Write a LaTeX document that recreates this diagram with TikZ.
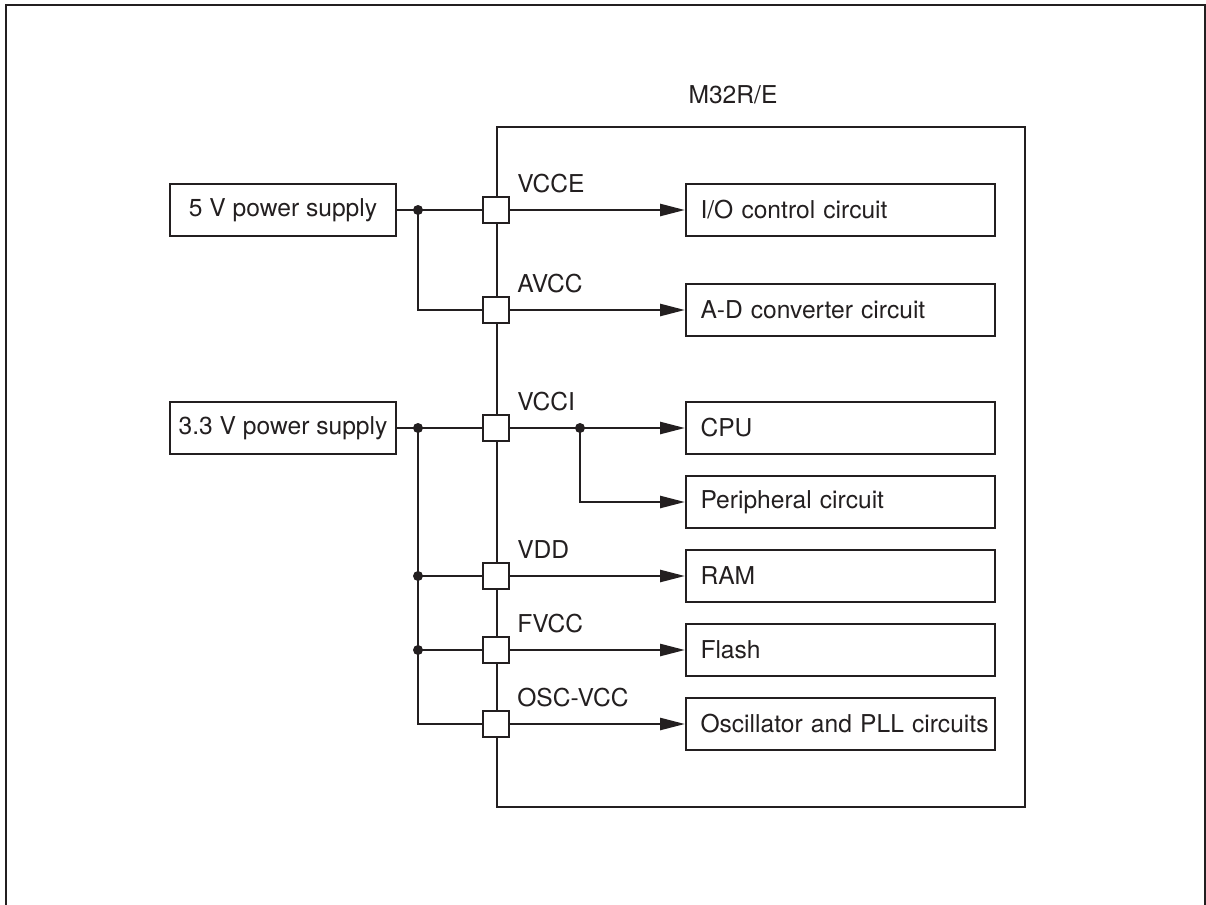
\documentclass[tikz,border=0pt]{standalone}
\usepackage{fontspec}
\setsansfont{TeX Gyre Heros}
\usetikzlibrary{arrows.meta,positioning}
\definecolor{ink}{RGB}{35,31,32}
\begin{document}
\begin{tikzpicture}[x=0.5pt,y=-0.5pt,color=ink,line width=1.3pt,
  every node/.style={font=\sffamily\fontsize{12.3pt}{14pt}\selectfont},
  supply/.style={draw,line width=1pt,anchor=west,minimum width=113pt,minimum height=26pt,inner sep=0pt},
  block/.style={draw,line width=1pt,anchor=west,align=left,text width=140pt,inner xsep=7.25pt,inner ysep=0pt,minimum height=26pt},
  pin/.style={draw,fill=white,line width=1pt,minimum size=13pt,inner sep=0pt},
  pinlbl/.style={inner sep=0pt},
  >={Triangle[length=12.5pt,width=6pt]}]
\useasboundingbox (0,0) rectangle (1206,905);
\draw[line width=1pt] (6,905) -- (6,5) -- (1205,5) -- (1205,905);
\node[draw,line width=0.9pt,anchor=north west,minimum width=264pt,minimum height=340pt,inner sep=0pt] (chip) at (496,126) {};
\node[anchor=base] (chipname) at (733,103) {M32R/E};
\node[supply] (ps5) at (169,210) {5 V power supply};
\node[supply] (ps33) at (169,428) {3.3 V power supply};
\node[pin] (vcce) at (496,210) {};
\node[pin] (avcc) at (496,310) {};
\node[pin] (vcci) at (496,428) {};
\node[pin] (vdd) at (496,576) {};
\node[pin] (fvcc) at (496,650) {};
\node[pin] (oscvcc) at (496,724) {};
\node[pinlbl,above right=1pt and 3pt of vcce.north east] (vccelbl) {VCCE};
\node[pinlbl,above right=1pt and 3pt of avcc.north east] (avcclbl) {AVCC};
\node[pinlbl,above right=1pt and 3pt of vcci.north east] (vccilbl) {VCCI};
\node[pinlbl,above right=1pt and 3pt of vdd.north east] (vddlbl) {VDD};
\node[pinlbl,above right=1pt and 3pt of fvcc.north east] (fvcclbl) {FVCC};
\node[pinlbl,above right=1pt and 3pt of oscvcc.north east] (oscvcclbl) {OSC-VCC};
\node[block] (io) at (685,210) {I/O control circuit};
\node[block] (adc) at (685,310) {A-D converter circuit};
\node[block] (cpu) at (685,428) {CPU};
\node[block] (peri) at (685,502) {Peripheral circuit};
\node[block] (ram) at (685,576) {RAM};
\node[block] (flash) at (685,650) {Flash};
\node[block] (osc) at (685,724) {\mbox{Oscillator and PLL circuits}};
\coordinate (j5) at (418,210);
\coordinate (j33) at (418,428);
\coordinate (jvdd) at (418,576);
\coordinate (jfvcc) at (418,650);
\coordinate (jcpu) at (580,428);
\draw (ps5.east) -- (j5) -- (vcce.west);\draw (j5) |- (avcc.west);
\draw (ps33.east) -- (j33) -- (vcci.west);\draw (j33) |- (oscvcc.west);
\draw (jvdd) -- (vdd.west);\draw (jfvcc) -- (fvcc.west);
\draw[->] (vcce.east) -- (io.west);\draw[->] (avcc.east) -- (adc.west);
\draw[->] (vcci.east) -- (jcpu) -- (cpu.west);\draw[->] (jcpu) |- (peri.west);
\draw[->] (vdd.east) -- (ram.west);\draw[->] (fvcc.east) -- (flash.west);
\draw[->] (oscvcc.east) -- (osc.west);
\foreach \j in {j5,j33,jvdd,jfvcc,jcpu} \fill (\j) circle (2.5pt);
\end{tikzpicture}
\end{document}
